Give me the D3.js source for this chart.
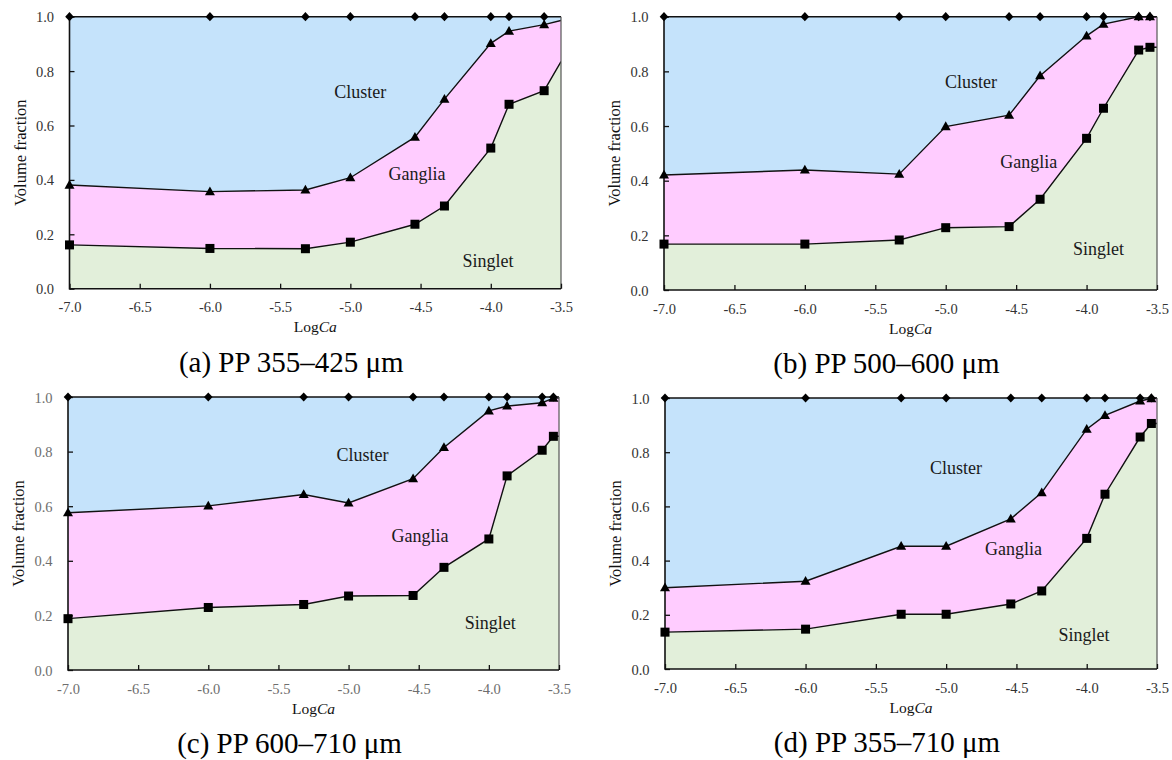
<!DOCTYPE html>
<html>
<head>
<meta charset="utf-8">
<script src="https://cdn.jsdelivr.net/npm/d3@7"></script>
<style>
  html, body { margin: 0; padding: 0; background: #fff; }
  svg { display: block; }
  text { font-family: "Liberation Serif", "Times New Roman", serif; }
</style>
</head>
<body>
<svg id="chart" width="1172" height="760"></svg>
<script>
// ---------------- DATA ----------------
const xTicks = [-7.0, -6.5, -6.0, -5.5, -5.0, -4.5, -4.0, -3.5];
const yTicks = [0.0, 0.2, 0.4, 0.6, 0.8, 1.0];
const regionNames = ["Cluster", "Ganglia", "Singlet"];
const captions = ["(a) PP 355\u2013425 \u03bcm", "(b) PP 500\u2013600 \u03bcm", "(c) PP 600\u2013710 \u03bcm", "(d) PP 355\u2013710 \u03bcm"];

// LogCa values (last entry = value at right edge of axis, drawn without marker)
const logCaA = [-7.0, -6.0, -5.32, -5.0, -4.54, -4.33, -4.0, -3.87, -3.62, -3.5];
const singletA = [0.161, 0.148, 0.147, 0.171, 0.237, 0.304, 0.517, 0.678, 0.728, 0.835];
const singletGangliaA = [0.381, 0.357, 0.363, 0.408, 0.557, 0.697, 0.902, 0.947, 0.971, 0.986];
const totalA = [1, 1, 1, 1, 1, 1, 1, 1, 1, 1];

const logCaB = [-7.0, -6.0, -5.33, -5.0, -4.55, -4.33, -4.0, -3.88, -3.63, -3.55, -3.5];
const singletB = [0.168, 0.168, 0.183, 0.228, 0.232, 0.332, 0.555, 0.665, 0.878, 0.888, 0.888];
const singletGangliaB = [0.421, 0.439, 0.424, 0.598, 0.640, 0.784, 0.930, 0.973, 1.0, 1.0, 1.0];
const totalB = [1, 1, 1, 1, 1, 1, 1, 1, 1, 1, 1];

const logCaC = [-7.0, -6.0, -5.32, -5.0, -4.54, -4.32, -4.0, -3.87, -3.62, -3.54, -3.5];
const singletC = [0.188, 0.229, 0.240, 0.271, 0.273, 0.376, 0.480, 0.711, 0.805, 0.856, 0.856];
const singletGangliaC = [0.576, 0.601, 0.643, 0.612, 0.701, 0.815, 0.949, 0.967, 0.979, 0.996, 0.996];
const totalC = [1, 1, 1, 1, 1, 1, 1, 1, 1, 1, 1];

const logCaD = [-7.0, -6.0, -5.32, -5.0, -4.54, -4.32, -4.0, -3.87, -3.62, -3.54, -3.5];
const singletD = [0.136, 0.147, 0.202, 0.202, 0.240, 0.288, 0.482, 0.645, 0.856, 0.906, 0.906];
const singletGangliaD = [0.300, 0.324, 0.453, 0.453, 0.554, 0.651, 0.885, 0.936, 0.989, 0.998, 0.998];
const totalD = [1, 1, 1, 1, 1, 1, 1, 1, 1, 1, 1];

// label anchor positions in data coords [LogCa, fraction] for Cluster, Ganglia, Singlet
const labelPosA = [[-4.93, 0.701], [-4.525, 0.40], [-4.02, 0.08]];
const labelPosB = [[-4.82, 0.739], [-4.41, 0.446], [-3.915, 0.129]];
const labelPosC = [[-4.90, 0.765], [-4.49, 0.468], [-3.99, 0.151]];
const labelPosD = [[-4.93, 0.72], [-4.52, 0.421], [-4.02, 0.102]];

// ---------------- LAYOUT / STYLE ----------------
const panels = [
  { x: logCaA, s: singletA, g: singletGangliaA, t: totalA, lab: labelPosA, cap: captions[0],
    box: { l: 69.5, t: 16.7, r: 561, b: 288.7 }, tickColor: "#333" },
  { x: logCaB, s: singletB, g: singletGangliaB, t: totalB, lab: labelPosB, cap: captions[1],
    box: { l: 664, t: 16.7, r: 1157, b: 290 }, tickColor: "#333" },
  { x: logCaC, s: singletC, g: singletGangliaC, t: totalC, lab: labelPosC, cap: captions[2],
    box: { l: 68, t: 397, r: 559, b: 670 }, tickColor: "#6e6e6e" },
  { x: logCaD, s: singletD, g: singletGangliaD, t: totalD, lab: labelPosD, cap: captions[3],
    box: { l: 665, t: 398, r: 1157, b: 669 }, tickColor: "#333" }
];

const colors = { cluster: "#c5e3fb", ganglia: "#ffccff", singlet: "#e2efda" };
const fmt = v => d3.format(".1f")(v).replace("\u2212", "-");

const svg = d3.select("#chart");

panels.forEach((p, pi) => {
  const B = p.box;
  const xs = d3.scaleLinear().domain([-7, -3.5]).range([B.l, B.r]);
  const ys = d3.scaleLinear().domain([0, 1]).range([B.b, B.t]);
  const g = svg.append("g");

  const clipId = "clip" + pi;
  svg.append("clipPath").attr("id", clipId)
    .append("rect").attr("x", B.l).attr("y", B.t - 1).attr("width", B.r - B.l).attr("height", B.b - B.t + 1);

  const rows = p.x.map((xv, i) => ({ x: xv, s: p.s[i], g: p.g[i], t: p.t[i], marked: true }));
  // last row is the edge value (no marker)
  rows[rows.length - 1].marked = false;

  const fills = g.append("g").attr("clip-path", `url(#${clipId})`);
  const area = (lo, hi) => d3.area().x(d => xs(d.x)).y0(d => ys(lo(d))).y1(d => ys(hi(d)));
  fills.append("path").datum(rows).attr("fill", colors.cluster).attr("d", area(d => 0, d => d.t));
  fills.append("path").datum(rows).attr("fill", colors.ganglia).attr("d", area(d => d.s, d => d.g));
  fills.append("path").datum(rows).attr("fill", colors.singlet).attr("d", area(d => 0, d => d.s));

  // region labels
  regionNames.forEach((nm, k) => {
    g.append("text").attr("x", xs(p.lab[k][0])).attr("y", ys(p.lab[k][1]))
      .attr("text-anchor", "middle").attr("font-size", 18).attr("fill", "#1a1a1a").text(nm);
  });

  // series lines
  const line = acc => d3.line().x(d => xs(d.x)).y(d => ys(acc(d)));
  const lines = g.append("g").attr("clip-path", `url(#${clipId})`);
  [d => d.s, d => d.g, d => d.t].forEach(acc => {
    lines.append("path").datum(rows).attr("fill", "none").attr("stroke", "#111")
      .attr("stroke-width", 1.4).attr("d", line(acc));
  });

  // frame: right border
  g.append("line").attr("x1", B.r).attr("x2", B.r).attr("y1", B.t).attr("y2", B.b)
    .attr("stroke", "#555").attr("stroke-width", 1.2);

  // axes
  const xAxis = d3.axisBottom(xs).tickValues(xTicks).tickSize(0).tickFormat(fmt);
  const yAxis = d3.axisLeft(ys).tickValues(yTicks).tickSize(0).tickFormat(fmt);

  const gx = g.append("g").attr("transform", `translate(0,${B.b})`).call(xAxis);
  gx.select(".domain").remove();
  gx.selectAll("text").attr("font-size", 14.5)
    .attr("fill", p.tickColor).attr("dy", null).attr("y", 23.5);
  gx.selectAll(".tick").append("line").attr("y1", 0).attr("y2", -5).attr("stroke", "#111").attr("stroke-width", 1.3);

  const gy = g.append("g").attr("transform", `translate(${B.l},0)`).call(yAxis);
  gy.select(".domain").remove();
  gy.selectAll("text").attr("font-size", 14.5)
    .attr("fill", p.tickColor).attr("x", -15.5).attr("dy", "0.35em");
  gy.selectAll(".tick").append("line").attr("x1", 0).attr("x2", 5).attr("stroke", "#111").attr("stroke-width", 1.3);

  // axis lines
  g.append("line").attr("x1", B.l).attr("x2", B.r).attr("y1", B.b).attr("y2", B.b)
    .attr("stroke", "#111").attr("stroke-width", 1.6);
  g.append("line").attr("x1", B.l).attr("x2", B.l).attr("y1", B.t).attr("y2", B.b + 0.8)
    .attr("stroke", "#111").attr("stroke-width", 1.6);

  // markers
  const marked = rows.filter(d => d.marked);
  const mk = g.append("g").attr("fill", "#000");
  const sq = 9;
  mk.selectAll("rect.sq").data(marked).join("rect").attr("class", "sq")
    .attr("x", d => xs(d.x) - sq / 2).attr("y", d => ys(d.s) - sq / 2)
    .attr("width", sq).attr("height", sq);
  mk.selectAll("path.tri").data(marked).join("path").attr("class", "tri")
    .attr("transform", d => `translate(${xs(d.x)},${ys(d.g)})`)
    .attr("d", "M0,-5.2 L5,3.6 L-5,3.6 Z");
  mk.selectAll("path.dia").data(marked).join("path").attr("class", "dia")
    .attr("transform", d => `translate(${xs(d.x)},${ys(d.t)})`)
    .attr("d", "M0,-4.6 L4.3,0 L0,4.6 L-4.3,0 Z");

  // axis titles
  const cx = (B.l + B.r) / 2, cy = (B.t + B.b) / 2;
  g.append("text").attr("transform", `translate(${B.l - 49.5},${cy}) rotate(-90)`)
    .attr("text-anchor", "middle").attr("dy", "0.35em").attr("font-size", 16.5).attr("fill", "#111")
    .text("Volume fraction");
  const xt = g.append("text").attr("x", cx).attr("y", B.b + 43.5)
    .attr("text-anchor", "middle").attr("font-size", 15.5).attr("fill", "#111");
  xt.append("tspan").text("Log");
  xt.append("tspan").attr("font-style", "italic").text("Ca");

  // caption
  g.append("text").attr("x", cx - 24).attr("y", B.b + 83)
    .attr("text-anchor", "middle").attr("font-size", 29).attr("fill", "#000").text(p.cap);
});
</script>
</body>
</html>
